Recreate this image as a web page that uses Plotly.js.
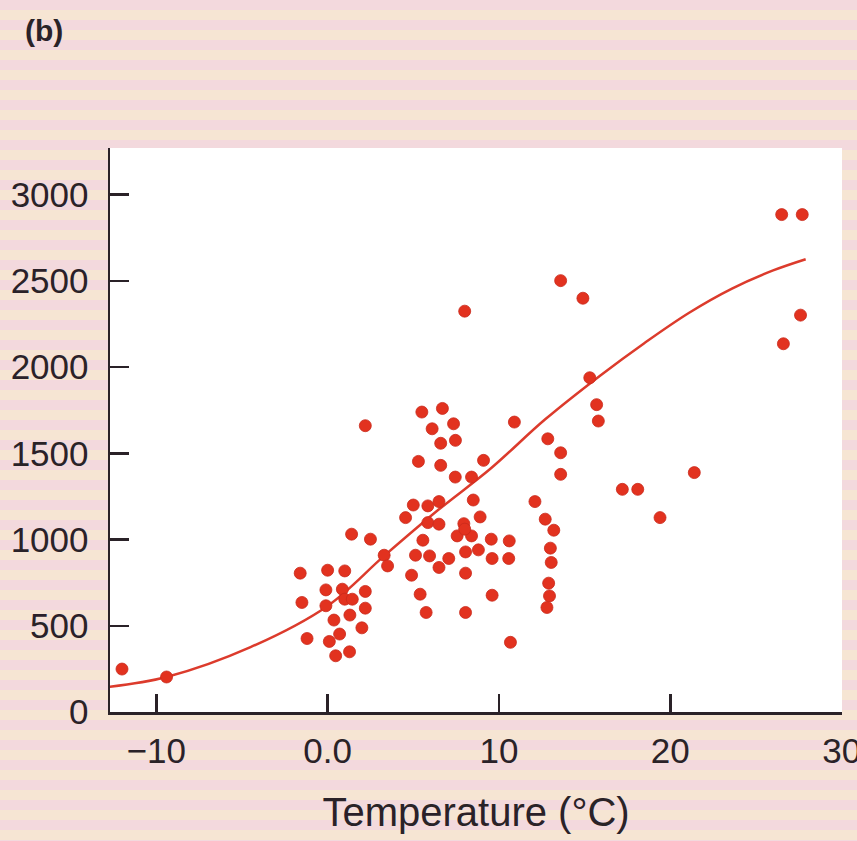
<!DOCTYPE html>
<html>
<head>
<meta charset="utf-8">
<script src="https://cdn.plot.ly/plotly-3.0.1.min.js"></script>
<style>html,body{margin:0;padding:0;background:#f5e2d6;}#chart{width:857px;height:841px;}</style>
</head>
<body>
<div id="chart"></div>
<script>
// Scatter data: temperature (°C) vs value
var pointTemp = [-12.0, -9.4, 2.2, -1.6, 0.0, 1.0, 1.4, 2.5, 3.3, 3.5,
  -1.5, -0.1, 0.86, 1.0, 1.44, 2.2, -0.1, 2.2, 1.3, 0.37,
  2.0, -1.2, 0.1, 0.7, 0.47, 1.28, 13.6, 14.9, 8.0, 15.3,
  15.7, 15.8, 5.5, 6.7, 6.1, 7.35, 6.6, 7.46, 10.9, 12.85,
  13.6, 13.6, 5.3, 6.6, 9.1, 7.45, 8.4, 17.2, 18.1, 6.5,
  5.0, 5.85, 8.5, 12.1, 4.55, 8.9, 5.85, 6.5, 7.95, 12.7,
  13.2, 7.56, 8.4, 9.55, 10.6, 5.56, 8.0, 13.0, 13.05, 5.13,
  5.95, 8.05, 8.8, 9.6, 10.57, 7.07, 6.5, 4.9, 8.05, 12.9,
  12.95, 12.8, 5.4, 9.6, 5.75, 8.05, 10.67, 26.5, 27.7, 27.6,
  26.6, 21.4, 19.4];
var pointValue = [249, 203, 1660, 805, 822, 818, 1031, 1002, 909, 847,
  635, 708, 712, 654, 654, 699, 616, 602, 562, 533,
  488, 426, 409, 452, 326, 349, 2501, 2399, 2324, 1938,
  1782, 1687, 1739, 1760, 1642, 1671, 1558, 1575, 1681, 1584,
  1503, 1378, 1453, 1430, 1459, 1362, 1362, 1291, 1291, 1220,
  1200, 1195, 1229, 1220, 1127, 1131, 1098, 1089, 1092, 1118,
  1054, 1021, 1021, 1002, 992, 996, 1060, 950, 867, 909,
  905, 928, 940, 890, 890, 890, 838, 793, 805, 747,
  673, 606, 683, 677, 577, 577, 404, 2884, 2884, 2301,
  2135, 1388, 1127];

// Fitted curve
var curveTemp = [-12.8, -9.4, -4.5, 0, 3.3, 6.5, 9.5, 12.7, 15.9, 18.5, 21.1, 23.6, 26.0, 27.9];
var curveValue = [145, 203, 376, 615, 905, 1175, 1410, 1697, 1950, 2140, 2315, 2455, 2560, 2625];

// Axis ticks
var xTickVals = [-10, 0, 10, 20, 30];
var xTickText = ['\u221210', '0.0', '10', '20', '30'];
var yTickVals = [0, 500, 1000, 1500, 2000, 2500, 3000];
var yTickText = ['0', '500', '1000', '1500', '2000', '2500', '3000'];

var W = 857, H = 841;
var M = {l: 110, r: 15, t: 148, b: 129};
var plotH = H - M.t - M.b;
var plotW = W - M.l - M.r;

// striped paper background
var shapes = [];
var period = 20;
for (var py = 0; py < H; py += period) {
  shapes.push({
    type: 'rect', xref: 'paper', yref: 'paper', layer: 'below',
    x0: -M.l / plotW - 0.01, x1: 1 + M.r / plotW + 0.01,
    y0: (H - M.b - py) / plotH, y1: (H - M.b - (py + period / 2)) / plotH,
    fillcolor: '#f3d9dd', line: {width: 0}
  });
}
// white plotting area
shapes.push({
  type: 'rect', xref: 'x domain', yref: 'y domain', layer: 'below',
  x0: 0, x1: 1, y0: 0, y1: 1, fillcolor: '#ffffff', line: {width: 0}
});

var textColor = '#2a2228';
var fontFam = '"Liberation Sans", Arial, sans-serif';

var traces = [
  {
    x: curveTemp, y: curveValue, type: 'scatter', mode: 'lines',
    line: {color: '#dc3b2c', width: 2.5, shape: 'spline', smoothing: 1.0},
    hoverinfo: 'skip', showlegend: false
  },
  {
    x: pointTemp, y: pointValue, type: 'scatter', mode: 'markers',
    marker: {color: '#e2321f', size: 12, line: {color: '#c92a1c', width: 0.8}},
    showlegend: false
  }
];

var layout = {
  width: W, height: H,
  margin: M,
  paper_bgcolor: '#f6e5d3',
  plot_bgcolor: 'rgba(0,0,0,0)',
  font: {family: fontFam, color: textColor},
  showlegend: false,
  shapes: shapes,
  xaxis: {
    range: [-12.7, 30.02],
    tickvals: xTickVals, ticktext: xTickText,
    ticks: 'inside', ticklen: 18, tickwidth: 2.5, tickcolor: textColor,
    showline: true, linecolor: textColor, linewidth: 2.5,
    showgrid: false, zeroline: false,
    ticklabeloverflow: 'allow',
    tickfont: {size: 35, color: textColor, family: fontFam},
    ticklabelstandoff: 6,
    title: {text: 'Temperature (\u00B0C)', font: {size: 40, color: textColor, family: fontFam}, standoff: 30}
  },
  yaxis: {
    range: [0, 3270],
    tickvals: yTickVals, ticktext: yTickText,
    ticks: 'inside', ticklen: 19, tickwidth: 2.5, tickcolor: textColor,
    showline: true, linecolor: textColor, linewidth: 2.5,
    showgrid: false, zeroline: false,
    tickfont: {size: 35, color: textColor, family: fontFam},
    ticklabelstandoff: 12
  },
  annotations: [{
    text: '<b>(b)</b>', xref: 'paper', yref: 'paper',
    x: (23 - M.l) / plotW, xanchor: 'left',
    y: (H - M.b - 30) / plotH, yanchor: 'middle',
    showarrow: false, font: {size: 30, color: textColor, family: fontFam}
  }]
};

Plotly.newPlot('chart', traces, layout, {displayModeBar: false, staticPlot: true});
</script>
</body>
</html>
